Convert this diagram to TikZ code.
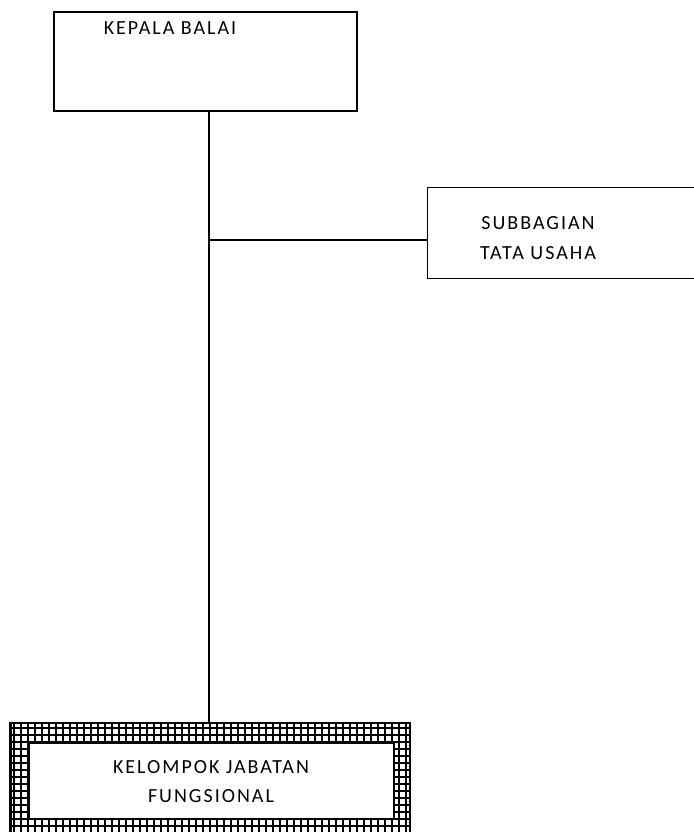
\documentclass[tikz,border=0pt]{standalone}
\usepackage{fontspec}
\setmainfont{Carlito}[LetterSpace=10]
\usetikzlibrary{positioning}
\tikzset{
  unit/.style={draw, line width=1.3pt, rectangle, inner sep=0pt},
  unit text/.style={font=\fontsize{20}{22}\selectfont, inner sep=0pt, anchor=center},
  link/.style={line width=1.3pt},
  grid lines/.style={line width=2pt, step=7pt},
}

\begin{document}
\begin{tikzpicture}[x=1pt, y=-1pt]
  \useasboundingbox (0,0) rectangle (693,832);

  % Boxes
  \node[unit, minimum width=303pt, minimum height=99pt] (kepala) at (205.5,61.5) {};
  \node[unit, minimum width=280pt, minimum height=91pt, anchor=north west] (subbag) at (427,187) {};
  \node[minimum width=399pt, minimum height=130pt, inner sep=0pt, anchor=north west] (frame) at (10.5,723) {};
  \begin{scope}
    \clip (frame.north west) rectangle (frame.south east);
    \draw[grid lines] (frame.north west) grid (frame.south east);
  \end{scope}
  \draw[line width=2.4pt] (frame.north west) rectangle (frame.south east);
  \node[draw, fill=white, line width=2.4pt, minimum width=365pt, minimum height=76pt,
        anchor=north west] (kelompok) at (28,742) {};

  % Labels
  \node[unit text] (kepalatext) at (170,28) {KEPALA BALAI};
  \node[unit text, align=center] (subbagtext) at (538,238) {SUBBAGIAN\\[8pt]TATA USAHA};
  \node[unit text, align=center] (kelompoktext) at (211,782) {KELOMPOK JABATAN\\[7pt]FUNGSIONAL};

  % Connectors
  \coordinate (trunk) at (209,240);
  \draw[link] (kepala.south -| trunk) -- (frame.north -| trunk);
  \draw[link] (trunk) -- (trunk -| subbag.west);
\end{tikzpicture}
\end{document}
